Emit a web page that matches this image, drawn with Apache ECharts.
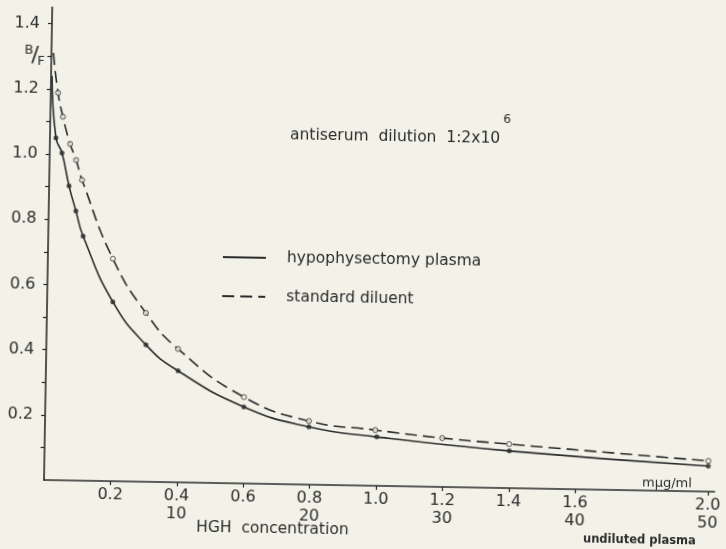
<!DOCTYPE html>
<html>
<head>
<meta charset="utf-8">
<script src="https://cdn.jsdelivr.net/npm/echarts@6/dist/echarts.min.js"></script>
<style>
  html, body { margin: 0; padding: 0; background: #f3f2e9; overflow: hidden; }
  /* the scanned figure is tilted about 1 degree clockwise round the axes corner */
  #chart { width: 726px; height: 549px; transform: rotate(1deg); transform-origin: 44px 480px; }
</style>
</head>
<body>
<div id="chart"></div>
<script>
// hypophysectomy plasma (filled dots, solid curve)
const hypoX = [0.018, 0.037, 0.06, 0.082, 0.105, 0.198, 0.3, 0.398, 0.598, 0.795, 1.0, 1.4, 2.0];
const hypoY = [1.05, 1.004, 0.903, 0.827, 0.75, 0.55, 0.42, 0.342, 0.235, 0.177, 0.15, 0.114, 0.078];
const hypoStart = [0.003, 1.24];

// standard diluent (open circles, dashed curve)
const stdX = [0.022, 0.038, 0.061, 0.08, 0.099, 0.196, 0.298, 0.397, 0.598, 0.795, 0.995, 1.197, 1.399, 2.0];
const stdY = [1.188, 1.115, 1.032, 0.983, 0.922, 0.682, 0.518, 0.409, 0.265, 0.195, 0.171, 0.15, 0.135, 0.094];
const stdStart = [0.006, 1.31];

// axis ticks and labels
const xTicks = [0.2, 0.4, 0.6, 0.8, 1.0, 1.2, 1.4, 1.6, 2.0];
const xTickLabels = ['0.2', '0.4', '0.6', '0.8', '1.0', '1.2', '1.4', '1.6', '2.0'];
const xSubLabels = ['', '10', '', '20', '', '30', '', '40', '50'];
const yTicks = [0.1, 0.2, 0.3, 0.4, 0.5, 0.6, 0.7, 0.8, 0.9, 1.0, 1.1, 1.2, 1.3, 1.4];
const yLabelValues = [0.2, 0.4, 0.6, 0.8, 1.0, 1.2, 1.4];
const yTickLabels = ['0.2', '0.4', '0.6', '0.8', '1.0', '1.2', '1.4'];

const INK = '#2b2b2b';
const PAPER = '#f3f2e9';
const FONT = '"DejaVu Sans", sans-serif';

const zip = (xs, ys) => xs.map((x, i) => [x, ys[i]]);
const hypoPts = zip(hypoX, hypoY);
const stdPts = zip(stdX, stdY);

const chart = echarts.init(document.getElementById('chart'));

chart.setOption({
    backgroundColor: PAPER,
    animation: false,
    textStyle: { fontFamily: FONT, color: INK },
    grid: { left: 44, right: 11.4, top: 7.3, bottom: 69 },
    xAxis: {
        type: 'value',
        min: 0,
        max: 2.02,
        axisLine: { lineStyle: { color: INK, width: 1.6 } },
        axisTick: { customValues: xTicks, length: 4, lineStyle: { color: INK, width: 1.2 } },
        splitLine: { show: false },
        axisLabel: {
            customValues: xTicks,
            margin: 5,
            fontSize: 16,
            lineHeight: 18,
            color: INK,
            fontFamily: FONT,
            formatter: v => {
                const i = xTicks.findIndex(t => Math.abs(t - v) < 1e-6);
                if (i < 0) return '';
                return xSubLabels[i] ? xTickLabels[i] + '\n' + xSubLabels[i] : xTickLabels[i];
            }
        }
    },
    yAxis: {
        type: 'value',
        min: 0,
        max: 1.45,
        axisLine: { show: true, lineStyle: { color: INK, width: 1.6 } },
        axisTick: { show: true, customValues: yTicks, length: 4, lineStyle: { color: INK, width: 1.2 } },
        splitLine: { show: false },
        axisLabel: {
            customValues: yLabelValues,
            margin: 12,
            fontSize: 16,
            color: INK,
            fontFamily: FONT,
            formatter: v => {
                const i = yLabelValues.findIndex(t => Math.abs(t - v) < 1e-6);
                return i < 0 ? '' : yTickLabels[i];
            }
        }
    },
    legend: {
        data: ['hypophysectomy plasma', 'standard diluent'],
        orient: 'vertical',
        left: 218,
        top: 245,
        padding: 0,
        itemWidth: 43,
        itemHeight: 10,
        itemGap: 21,
        itemStyle: { opacity: 0 },
        textStyle: { fontSize: 15.5, lineHeight: 18, color: INK, fontFamily: FONT, padding: [0, 0, 0, 16] }
    },
    graphic: [
        { type: 'text', left: 284, top: 123, style: { text: 'antiserum  dilution  1:2x10', fontSize: 15.5, fill: INK, fontFamily: FONT } },
        { type: 'text', left: 497, top: 106, style: { text: '6', fontSize: 12, fill: INK, fontFamily: FONT } },
        { type: 'text', left: 197, top: 517, style: { text: 'HGH  concentration', fontSize: 15.5, fill: INK, fontFamily: FONT } },
        { type: 'text', left: 642, top: 466, style: { text: 'mμg/ml', fontSize: 13, fill: INK, fontFamily: FONT } },
        { type: 'text', left: 584, top: 524, style: { text: 'undiluted plasma', fontSize: 11.5, fontWeight: 'bold', fill: INK, fontFamily: FONT } },
        { type: 'text', left: 17, top: 44, style: { text: 'B', fontSize: 13, fill: INK, fontFamily: FONT } },
        { type: 'text', left: 24, top: 45, style: { text: '/', fontSize: 22, fill: INK, fontFamily: FONT } },
        { type: 'text', left: 30, top: 55, style: { text: 'F', fontSize: 13, fill: INK, fontFamily: FONT } }
    ],
    series: [
        {
            name: 'hypophysectomy plasma',
            type: 'line',
            data: [hypoStart].concat(hypoPts),
            smooth: 0.5,
            symbol: 'none',
            lineStyle: { color: INK, width: 1.6 },
            itemStyle: { color: INK },
            z: 3
        },
        {
            name: 'standard diluent',
            type: 'line',
            data: [stdStart].concat(stdPts),
            smooth: 0.5,
            symbol: 'none',
            lineStyle: { color: INK, width: 1.6, type: [12, 6] },
            itemStyle: { color: INK },
            z: 3
        },
        {
            name: 'hypo points',
            type: 'scatter',
            data: hypoPts,
            symbol: 'circle',
            symbolSize: 5,
            itemStyle: { color: INK },
            z: 4
        },
        {
            name: 'std points',
            type: 'scatter',
            data: stdPts,
            symbol: 'circle',
            symbolSize: 5,
            itemStyle: { color: PAPER, borderColor: INK, borderWidth: 1 },
            z: 4
        }
    ]
});
</script>
</body>
</html>
